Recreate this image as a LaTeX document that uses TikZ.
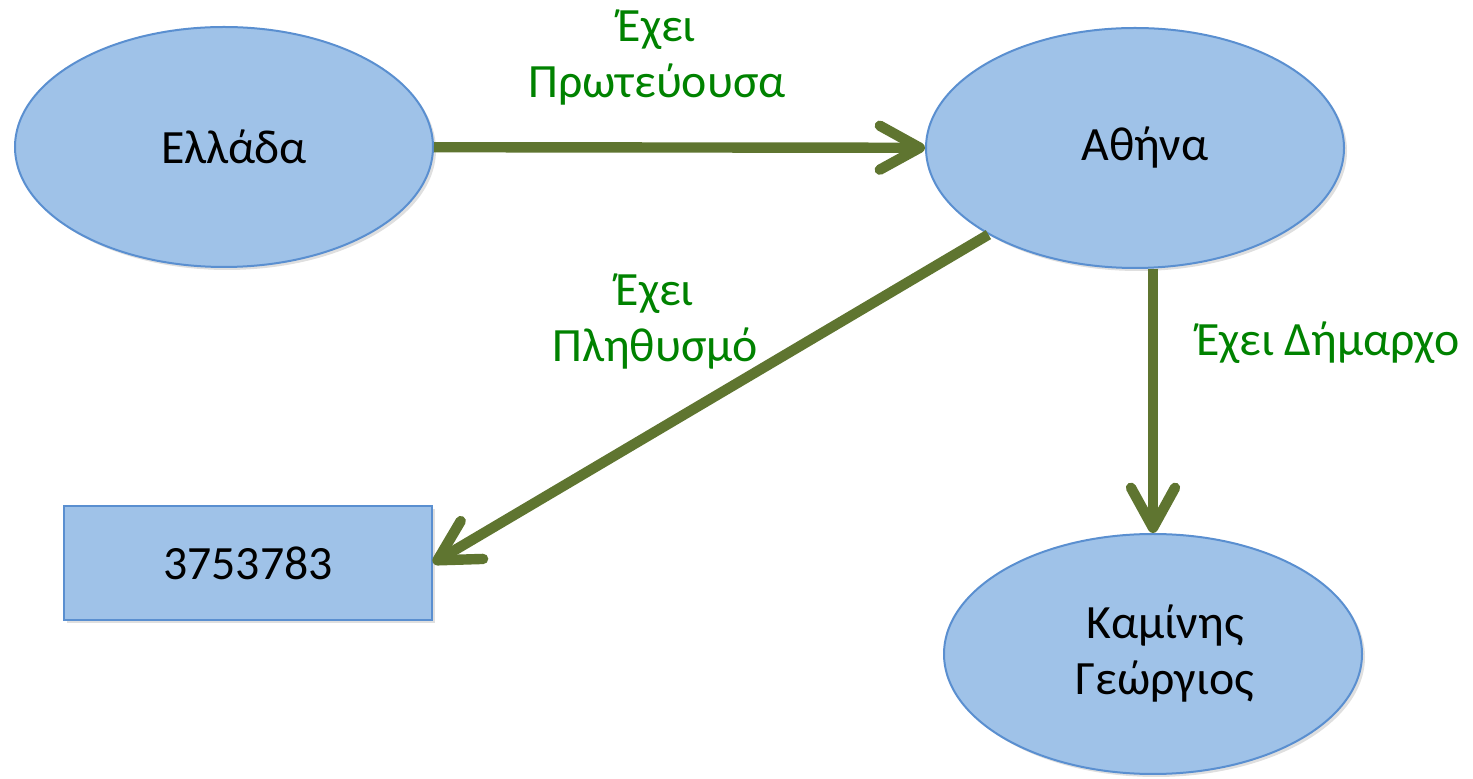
\documentclass[tikz,border=0pt]{standalone}
\usepackage{fontspec}
\setmainfont{Carlito}
\usetikzlibrary{arrows.meta,shapes.geometric,shadows,calc}
\definecolor{shapefill}{HTML}{9FC2E8}
\definecolor{shapeline}{HTML}{5A8FD0}
\definecolor{arrowgreen}{HTML}{5F7530}
\definecolor{labelgreen}{HTML}{008200}
\begin{document}
\begin{tikzpicture}[x=0.5pt,y=-0.5pt,
  every node/.style={font=\fontsize{23.9}{28}\selectfont},
  ell/.style={ellipse,draw=shapeline,line width=1pt,fill=shapefill,inner sep=0pt,
    minimum width=209pt,minimum height=120pt,align=center,
    drop shadow={opacity=0.25,shadow xshift=1.5pt,shadow yshift=-1.5pt}},
  box/.style={rectangle,draw=shapeline,line width=1pt,fill=shapefill,inner sep=0pt,
    minimum width=184pt,minimum height=57pt,
    drop shadow={opacity=0.25,shadow xshift=1.5pt,shadow yshift=-1.5pt}},
  rel/.style={draw=arrowgreen,line width=5.2pt,
    -{Straight Barb[length=20pt,width=22pt,round]}},
  lbl/.style={text=labelgreen,align=center,inner sep=0pt}]
\useasboundingbox (0,0) rectangle (1473,779);
\node[ell] (ell) at (224,147) {\hspace*{10pt}Ελλάδα};
\node[ell] (ath) at (1135,148) {\hspace*{10pt}Αθήνα};
\node[ell] (kam) at (1153,654) {\hspace*{12pt}Καμίνης\\\hspace*{12pt}Γεώργιος};
\node[box] (pop) at (248,563) {3753783};
\draw[rel] (ell) -- (ath);
\draw[rel] (ath) -- (pop.east);
\draw[rel] (kam.north |- ath.south) -- (kam.north);
\node[lbl] (l1) at (657,58) {Έχει\\Πρωτεύουσα};
\node[lbl] (l2) at (655,322) {Έχει\\Πληθυσμό};
\node[lbl] (l3) at (1328,343) {Έχει Δήμαρχο};
\end{tikzpicture}
\end{document}
